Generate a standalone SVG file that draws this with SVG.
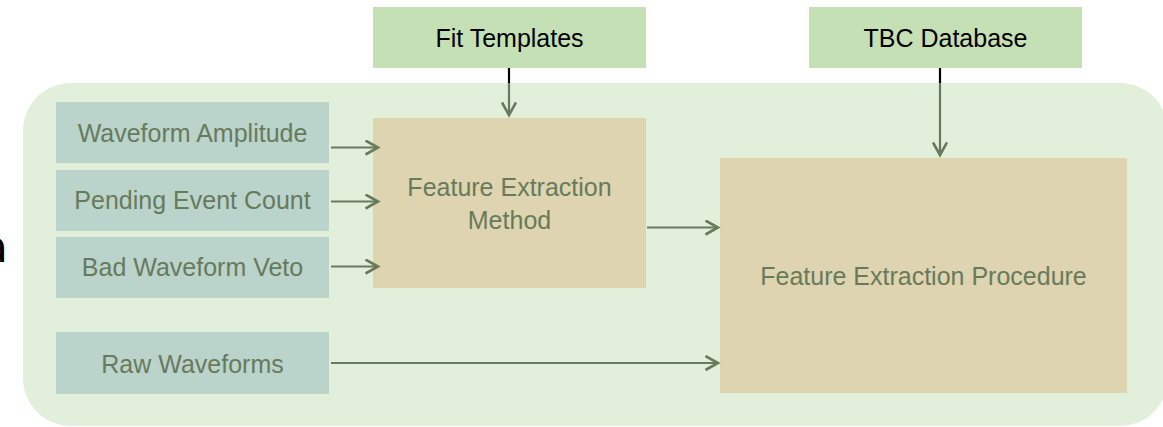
<svg xmlns="http://www.w3.org/2000/svg" width="1163" height="427" viewBox="0 0 1163 427">
  <style>
    text { font-family: "Liberation Sans", Arial, sans-serif; font-size: 25px; text-anchor: middle; }
    .src rect { fill: #bad3cb; }
    .ext rect { fill: #c5e0b4; }
    .proc rect { fill: #ded4af; }
    .src text, .proc text { fill: #687a5c; }
    .ext text { fill: #000000; }
    .edge-label { font-family: "DejaVu Sans", sans-serif; font-size: 44px; text-anchor: end; fill: #000000; }
    .conn { stroke: #687a5c; stroke-width: 2.2; fill: none; marker-end: url(#head); }
    .stub { stroke: #000000; stroke-width: 2.2; fill: none; }
  </style>
  <defs>
    <marker id="head" markerUnits="userSpaceOnUse" markerWidth="18" markerHeight="18" refX="14" refY="8" orient="auto">
      <path d="M1.5,1 L14,8 L1.5,15" fill="none" stroke="#687a5c" stroke-width="2.6" stroke-linejoin="miter"/>
    </marker>
  </defs>

  <!-- clipped label at the left edge -->
  <text class="edge-label" x="8" y="262">a</text>

  <!-- processing area -->
  <rect id="area" x="23" y="83" width="1145" height="343" rx="48" ry="48" fill="#e2efda"/>

  <g id="fit-templates" class="ext">
    <rect x="373" y="7" width="273" height="61"/>
    <text x="509.5" y="46.5">Fit Templates</text>
  </g>
  <g id="tbc-database" class="ext">
    <rect x="809" y="7" width="273" height="61"/>
    <text x="945.5" y="47">TBC Database</text>
  </g>

  <g id="waveform-amplitude" class="src">
    <rect x="56" y="102" width="273" height="61"/>
    <text x="192.5" y="141.5">Waveform Amplitude</text>
  </g>
  <g id="pending-event-count" class="src">
    <rect x="56" y="170" width="273" height="61"/>
    <text x="192.5" y="209">Pending Event Count</text>
  </g>
  <g id="bad-waveform-veto" class="src">
    <rect x="56" y="237" width="273" height="61"/>
    <text x="192.5" y="276">Bad Waveform Veto</text>
  </g>
  <g id="raw-waveforms" class="src">
    <rect x="56" y="332" width="273" height="62"/>
    <text x="192.5" y="373">Raw Waveforms</text>
  </g>

  <g id="feature-extraction-method" class="proc">
    <rect x="373" y="118" width="273" height="170"/>
    <text x="509.5" y="196">Feature Extraction</text>
    <text x="509.5" y="229">Method</text>
  </g>
  <g id="feature-extraction-procedure" class="proc">
    <rect x="720" y="158" width="407" height="235"/>
    <text x="923.5" y="285">Feature Extraction Procedure</text>
  </g>

  <g id="connectors">
    <line class="stub" x1="509" y1="68" x2="509" y2="83"/>
    <line class="conn" x1="509" y1="83" x2="509" y2="115"/>
    <line class="stub" x1="940" y1="68" x2="940" y2="83"/>
    <line class="conn" x1="940" y1="83" x2="940" y2="155"/>
    <line class="conn" x1="331" y1="147.5" x2="378" y2="147.5"/>
    <line class="conn" x1="331" y1="201.5" x2="378" y2="201.5"/>
    <line class="conn" x1="331" y1="266.5" x2="378" y2="266.5"/>
    <line class="conn" x1="647" y1="227.5" x2="718" y2="227.5"/>
    <line class="conn" x1="331" y1="363" x2="718" y2="363"/>
  </g>
</svg>
